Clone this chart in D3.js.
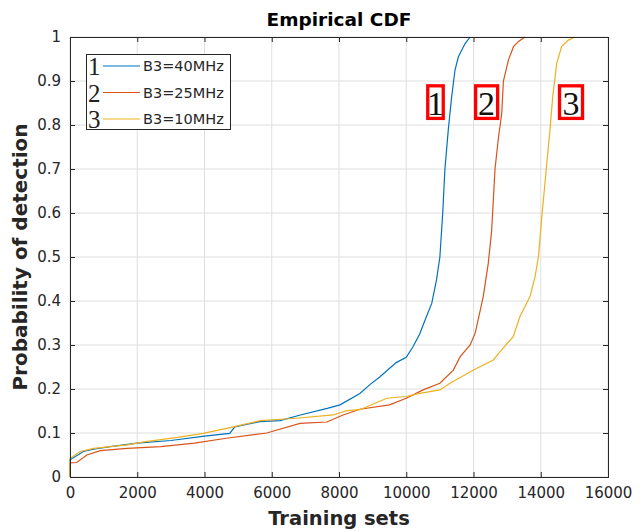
<!DOCTYPE html>
<html><head><meta charset="utf-8">
<script src="https://cdn.jsdelivr.net/npm/d3@7"></script>
<style>body{margin:0;background:#fff}svg{display:block}</style>
</head><body>
<script>
const xTicks = [0,2000,4000,6000,8000,10000,12000,14000,16000];
const yTicks = [0,0.1,0.2,0.3,0.4,0.5,0.6,0.7,0.8,0.9,1];
const seriesNames = ["B3=40MHz","B3=25MHz","B3=10MHz"];
const seriesTags = ["1","2","3"];
const x40 = [0,0,400,700,1200,2000,3000,4000,4750,4900,5650,6250,6850,7650,8030,8620,8920,9220,9700,10000,10200,10400,10560,10760,10900,11000,11085,11150,11250,11350,11450,11550,11750,11900];
const y40 = [0,0.039,0.058,0.063,0.069,0.077,0.083,0.093,0.099,0.114,0.126,0.128,0.141,0.156,0.164,0.19,0.21,0.228,0.26,0.272,0.296,0.325,0.357,0.395,0.448,0.5,0.6,0.7,0.789,0.864,0.925,0.955,0.985,1.0];
const x25 = [0,0,200,500,900,1700,2700,3700,4650,5850,6840,7640,8120,8620,9500,10000,10500,11000,11400,11600,11900,12050,12290,12440,12540,12640,12740,12840,12890,13040,13190,13340,13530];
const y25 = [0,0.032,0.033,0.05,0.06,0.065,0.069,0.077,0.088,0.10,0.122,0.125,0.141,0.154,0.164,0.179,0.198,0.213,0.243,0.273,0.30,0.327,0.41,0.486,0.56,0.70,0.77,0.826,0.90,0.948,0.978,0.99,1.0];
const x10 = [0,0,300,700,1700,2200,3200,3960,4860,5650,6640,7830,8230,8620,9420,10000,10400,11000,11300,12000,12590,12790,13180,13380,13680,13830,13930,14030,14180,14275,14355,14475,14620,14820,15020];
const y10 = [0,0.042,0.058,0.065,0.073,0.08,0.09,0.099,0.114,0.128,0.133,0.141,0.151,0.153,0.179,0.183,0.19,0.198,0.213,0.243,0.266,0.285,0.319,0.364,0.41,0.455,0.50,0.59,0.713,0.789,0.864,0.94,0.978,0.993,1.0];
// boxed curve tag positions (data coords)
const tagX = [10870, 12390, 14900];
const tagY = [0.852, 0.852, 0.852];

const W = 642, H = 531;
const m = {left:70, right:34, top:37, bottom:54};
const colors = ["#0072BD","#D95319","#EDB120"];
const axisCol = "#262626";

const svg = d3.select("body").append("svg").attr("width",W).attr("height",H);
const x = d3.scaleLinear().domain([0,16000]).range([m.left, W-m.right]);
const y = d3.scaleLinear().domain([0,1]).range([H-m.bottom, m.top]);

const g = svg.append("g");
g.selectAll(".gx").data(xTicks).enter().append("line")
  .attr("x1",d=>x(d)).attr("x2",d=>x(d)).attr("y1",y(0)).attr("y2",y(1))
  .attr("stroke","#dfdfdf").attr("stroke-width",1);
g.selectAll(".gy").data(yTicks).enter().append("line")
  .attr("y1",d=>y(d)).attr("y2",d=>y(d)).attr("x1",x(0)).attr("x2",x(16000))
  .attr("stroke","#dfdfdf").attr("stroke-width",1);

const data = [[x40,y40],[x25,y25],[x10,y10]];
const line = d3.line().x(d=>x(d[0])).y(d=>y(d[1]));
data.forEach((s,i)=>{
  const pts = s[0].map((v,k)=>[v,s[1][k]]);
  svg.append("path").datum(pts).attr("d",line).attr("fill","none")
    .attr("stroke",colors[i]).attr("stroke-width",1.2);
});

const fontTick = "DejaVu Sans, sans-serif";
const xa = svg.append("g").attr("transform",`translate(0,${y(0)})`)
  .call(d3.axisBottom(x).tickValues(xTicks).tickSize(-5).tickPadding(10).tickFormat(d3.format("d")));
const xt = svg.append("g").attr("transform",`translate(0,${y(1)})`)
  .call(d3.axisTop(x).tickValues(xTicks).tickSize(-5).tickFormat(""));
const ya = svg.append("g").attr("transform",`translate(${x(0)},0)`)
  .call(d3.axisLeft(y).tickValues(yTicks).tickSize(-5).tickPadding(9).tickFormat(d=>d3.format("")(d)));
const yr = svg.append("g").attr("transform",`translate(${x(16000)},0)`)
  .call(d3.axisRight(y).tickValues(yTicks).tickSize(-5).tickFormat(""));
[xa,xt,ya,yr].forEach(a=>{
  a.selectAll("path").attr("stroke",axisCol).attr("stroke-width",1);
  a.selectAll("line").attr("stroke",axisCol);
  a.selectAll("text").attr("fill",axisCol).style("font-family",fontTick).style("font-size","15px");
});

svg.append("text").attr("x",(x(0)+x(16000))/2).attr("y",26).attr("text-anchor","middle")
  .style("font-family",fontTick).style("font-weight","bold").style("font-size","18.5px").attr("fill","#000")
  .text("Empirical CDF");
svg.append("text").attr("x",(x(0)+x(16000))/2).attr("y",525).attr("text-anchor","middle")
  .style("font-family",fontTick).style("font-weight","bold").style("font-size","19.5px").attr("fill","#262626")
  .text("Training sets");
svg.append("text").attr("transform",`translate(27,${(y(0)+y(1))/2}) rotate(-90)`).attr("text-anchor","middle")
  .style("font-family",fontTick).style("font-weight","bold").style("font-size","20px").attr("fill","#262626")
  .text("Probability of detection");

const lg = svg.append("g");
lg.append("rect").attr("x",86.5).attr("y",54.5).attr("width",144).attr("height",75)
  .attr("fill","#fff").attr("stroke","#262626").attr("stroke-width",1);
seriesNames.forEach((n,i)=>{
  const cy = 66 + i*26.5;
  lg.append("text").attr("x",88).attr("y",cy+9).style("font-family","Liberation Serif, serif")
    .style("font-size","25px").attr("fill","#222").text(seriesTags[i]);
  lg.append("line").attr("x1",103).attr("x2",140).attr("y1",cy).attr("y2",cy)
    .attr("stroke",colors[i]).attr("stroke-width",1.2);
  lg.append("text").attr("x",143).attr("y",cy+5).style("font-family",fontTick)
    .style("font-size","14.5px").attr("fill","#262626").text(n);
});

const tagW = [15.5, 22, 23];
seriesTags.forEach((t,i)=>{
  const cx = x(tagX[i]), cy = y(tagY[i]);
  svg.append("rect").attr("x",cx-tagW[i]/2).attr("y",cy-16.3).attr("width",tagW[i]).attr("height",32.6)
    .attr("fill","#fff").attr("stroke","#ff0000").attr("stroke-width",3.3);
  svg.append("text").attr("x",cx).attr("y",cy+12.5).attr("text-anchor","middle")
    .style("font-family","Liberation Serif, serif").style("font-size","34px").attr("fill","#111").text(t);
});
</script>
</body></html>
